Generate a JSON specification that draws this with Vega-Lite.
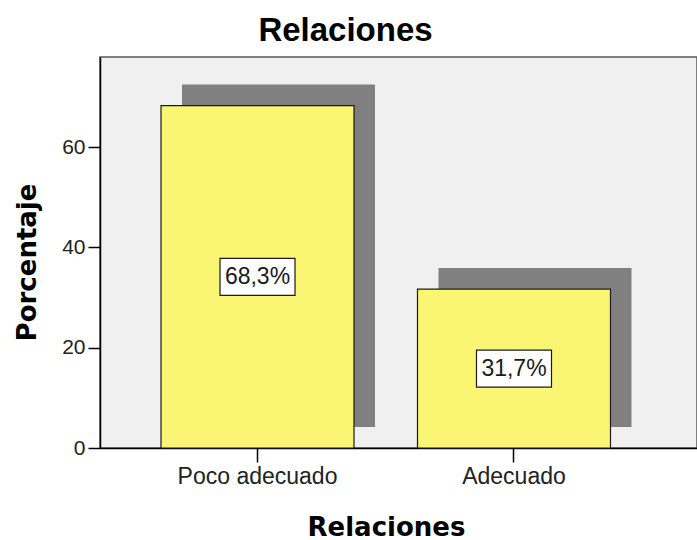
{
  "$schema": "https://vega.github.io/schema/vega-lite/v6.json",
  "autosize": "none",
  "width": 597,
  "height": 391,
  "padding": {"left": 100, "top": 57, "right": 0, "bottom": 92},
  "background": "white",
  "title": {
    "text": "Relaciones",
    "font": "Liberation Sans",
    "fontSize": 33,
    "fontWeight": "bold",
    "color": "#000000",
    "frame": "group",
    "anchor": "middle",
    "dx": -53,
    "dy": 32,
    "baseline": "alphabetic",
    "offset": 15
  },
  "config": {
    "view": {"fill": "#f0f0f0", "stroke": "#5a5a5a", "strokeWidth": 1.5},
    "axis": {
      "grid": false,
      "domainColor": "#000000",
      "domainWidth": 1.5,
      "tickColor": "#000000",
      "tickWidth": 1.5,
      "labelFont": "Liberation Sans",
      "labelColor": "#222222",
      "labelFontSize": 21,
      "titleFont": "DejaVu Sans",
      "titleFontWeight": "bold",
      "titleFontSize": 26,
      "titleColor": "#000000"
    }
  },
  "data": {
    "values": [
      {"categoria": "Poco adecuado", "porcentaje": 68.3, "etiqueta": "68,3%"},
      {"categoria": "Adecuado", "porcentaje": 31.7, "etiqueta": "31,7%"}
    ]
  },
  "encoding": {
    "x": {
      "field": "categoria",
      "type": "nominal",
      "sort": null,
      "scale": {"paddingInner": 0.2476, "paddingOuter": 0.2876, "align": 0.4136},
      "axis": {
        "title": "Relaciones",
        "labelAngle": 0,
        "labelFontSize": 23,
        "tickSize": 14,
        "labelPadding": 3,
        "titleX": 286,
        "titleY": 87,
        "titleAlign": "center",
        "titleBaseline": "alphabetic",
        "titleAnchor": null
      }
    }
  },
  "layer": [
    {
      "mark": {"type": "bar", "color": "#808080", "xOffset": 21, "yOffset": -21, "y2Offset": -21},
      "encoding": {
        "y": {
          "field": "porcentaje",
          "type": "quantitative",
          "scale": {"domain": [0, 78], "nice": false},
          "axis": {
            "title": "Porcentaje",
            "values": [0, 20, 40, 60],
            "tickSize": 12,
            "labelPadding": 3,
            "titleX": -65,
            "titleY": 205,
            "titleAngle": -90,
            "titleAlign": "center",
            "titleBaseline": "alphabetic"
          }
        }
      }
    },
    {
      "mark": {"type": "bar", "fill": "#faf572", "stroke": "#1a1a1a", "strokeWidth": 1.2},
      "encoding": {
        "y": {"field": "porcentaje", "type": "quantitative"}
      }
    },
    {
      "transform": [{"calculate": "datum.porcentaje / 2", "as": "mitad"}],
      "layer": [
        {
          "mark": {
            "type": "point",
            "shape": "M-1,-0.493L1,-0.493L1,0.493L-1,0.493Z",
            "size": 5625,
            "filled": true,
            "fill": "#ffffff",
            "stroke": "#1a1a1a",
            "strokeWidth": 1.2,
            "opacity": 1
          },
          "encoding": {
            "y": {"field": "mitad", "type": "quantitative"}
          }
        },
        {
          "mark": {
            "type": "text",
            "font": "Liberation Sans",
            "fontSize": 23,
            "color": "#1a1a1a",
            "baseline": "middle",
            "align": "center"
          },
          "encoding": {
            "y": {"field": "mitad", "type": "quantitative"},
            "text": {"field": "etiqueta"}
          }
        }
      ]
    }
  ]
}
